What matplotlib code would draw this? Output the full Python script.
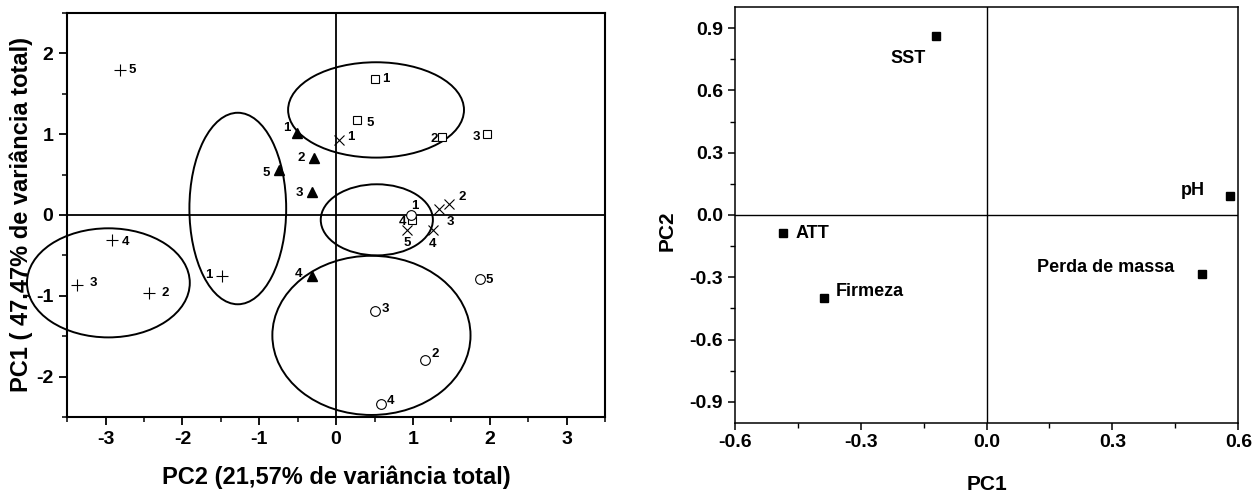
import matplotlib
matplotlib.use("Agg")
from matplotlib import pyplot as plt
from matplotlib.patches import Ellipse
from matplotlib.ticker import MultipleLocator
import numpy as np

plt.rcParams['font.family'] = ['Liberation Sans', 'DejaVu Sans']
plt.rcParams['font.weight'] = 'bold'
plt.rcParams['axes.unicode_minus'] = False

# --- score plot (left), five groups, samples 1-5 ---
plus_lbl = ["5", "4", "3", "2", "1"]
plus_x = [-2.82, -2.92, -3.38, -2.44, -1.49]
plus_y = [1.79, -0.31, -0.87, -0.96, -0.75]

tri_lbl = ["1", "2", "5", "3", "4"]
tri_x = [-0.51, -0.29, -0.75, -0.31, -0.32]
tri_y = [1.01, 0.71, 0.56, 0.28, -0.75]

sq_lbl = ["1", "5", "2", "3", "4"]
sq_x = [0.51, 0.27, 1.38, 1.96, 0.99]
sq_y = [1.68, 1.18, 0.97, 1.00, -0.06]

cross_lbl = ["1", "2", "3", "5", "4"]
cross_x = [0.04, 1.47, 1.34, 0.92, 1.26]
cross_y = [0.93, 0.14, 0.07, -0.19, -0.19]

circ_lbl = ["1", "5", "3", "2", "4"]
circ_x = [0.98, 1.87, 0.51, 1.16, 0.58]
circ_y = [0.00, -0.79, -1.19, -1.79, -2.34]

# group ellipses
ell_cx = [0.52, 0.53, 0.46, -1.28, -2.965]
ell_cy = [1.30, -0.06, -1.49, 0.08, -0.84]
ell_w = [2.29, 1.46, 2.58, 1.26, 2.12]
ell_h = [1.18, 0.88, 1.97, 2.37, 1.35]

# --- loadings plot (right) ---
variables = ["SST", "ATT", "Firmeza", "pH", "Perda de massa"]
load_pc1 = [-0.12, -0.484, -0.388, 0.579, 0.513]
load_pc2 = [0.864, -0.088, -0.402, 0.092, -0.286]

# label offsets (pixels)
plus_off = [(13, 0), (14, -2), (17, 2), (16, 0), (-13, 1)]
tri_off = [(-10, 5), (-13, 0), (-12, -3), (-13, -1), (-13, 2)]
sq_off = [(11, 0), (13, -3), (-8, -2), (-10, -3), (-10, -2)]
cross_off = [(12, 3), (13, 7), (11, -13), (0, -13), (0, -14)]
circ_off = [(3, 9), (10, -1), (10, 2), (10, 6), (10, 3)]
var_off = [(-28, -23, 'center'), (12, 0, 'left'), (12, 7, 'left'),
           (-25, 5, 'right'), (-28, 7, 'right')]

fig = plt.figure(figsize=(12.6, 4.95), dpi=100)
ax1 = fig.add_axes([0.0534, 0.1576, 0.4267, 0.8162])
ax2 = fig.add_axes([0.5831, 0.1461, 0.3997, 0.8392])

# ---------- left ----------
ax1.axhline(0, color='k', lw=1.3, zorder=1)
ax1.axvline(0, color='k', lw=1.3, zorder=1)

for cx, cy, w, h in zip(ell_cx, ell_cy, ell_w, ell_h):
    ax1.add_patch(Ellipse((cx, cy), w, h, fill=False, ec='k', lw=1.4,
                          clip_on=False, zorder=2))

ax1.plot(plus_x, plus_y, ls='none', marker='+', ms=9, mew=0.8, color='k', zorder=3)
ax1.plot(tri_x, tri_y, ls='none', marker='^', ms=7.5, color='k', zorder=3)
ax1.plot(sq_x, sq_y, ls='none', marker='s', ms=6, mew=0.8, mfc='white', mec='k', zorder=3)
ax1.plot(cross_x, cross_y, ls='none', marker='x', ms=7, mew=0.8, color='k', zorder=3)
ax1.plot(circ_x, circ_y, ls='none', marker='o', ms=7, mew=0.8, mfc='white', mec='k', zorder=4)

for lbls, xs, ys, offs in [(plus_lbl, plus_x, plus_y, plus_off),
                           (tri_lbl, tri_x, tri_y, tri_off),
                           (sq_lbl, sq_x, sq_y, sq_off),
                           (cross_lbl, cross_x, cross_y, cross_off),
                           (circ_lbl, circ_x, circ_y, circ_off)]:
    for t, x, y, (dx, dy) in zip(lbls, xs, ys, offs):
        ax1.annotate(t, (x, y), xytext=(dx, dy), textcoords='offset pixels',
                     ha='center', va='center', fontsize=9.5, fontweight='bold', zorder=5)

ax1.set_xlim(-3.5, 3.5)
ax1.set_ylim(-2.5, 2.5)
ax1.xaxis.set_major_locator(MultipleLocator(1))
ax1.xaxis.set_minor_locator(MultipleLocator(0.5))
ax1.yaxis.set_major_locator(MultipleLocator(1))
ax1.yaxis.set_minor_locator(MultipleLocator(0.5))
ax1.tick_params(which='major', direction='out', length=5.5, width=1.3, labelsize=14, pad=4.5)
ax1.tick_params(which='minor', direction='out', length=3.5, width=1.1)
for s in ax1.spines.values():
    s.set_linewidth(1.5)
ax1.set_xlabel('PC2 (21,57% de variância total)', fontsize=17, fontweight='bold')
ax1.set_ylabel('PC1 ( 47,47% de variância total)', fontsize=17, fontweight='bold')
ax1.xaxis.set_label_coords(0.5, -0.119)
ax1.yaxis.set_label_coords(-0.064, 0.5)

# ---------- right ----------
ax2.axhline(0, color='k', lw=1.0, zorder=1)
ax2.axvline(0, color='k', lw=1.0, zorder=1)
ax2.plot(load_pc1, load_pc2, ls='none', marker='s', ms=5.5, color='k', zorder=3)
for v, x, y, (dx, dy, ha) in zip(variables, load_pc1, load_pc2, var_off):
    ax2.annotate(v, (x, y), xytext=(dx, dy), textcoords='offset pixels',
                 ha=ha, va='center', fontsize=13, fontweight='bold')

ax2.set_xlim(-0.6, 0.6)
ax2.set_ylim(-1.0, 1.0)
ax2.set_xticks([-0.6, -0.3, 0.0, 0.3, 0.6])
ax2.set_yticks([-0.9, -0.6, -0.3, 0.0, 0.3, 0.6, 0.9])
ax2.xaxis.set_minor_locator(MultipleLocator(0.15))
ax2.set_yticks(np.arange(-0.75, 0.8, 0.3), minor=True)
ax2.tick_params(which='major', direction='out', length=5, width=1.1, labelsize=14, pad=3.5)
ax2.tick_params(which='minor', direction='out', length=3.5, width=1.0)
for s in ax2.spines.values():
    s.set_linewidth(1.1)
ax2.set_xlabel('PC1', fontsize=15, fontweight='bold')
ax2.set_ylabel('PC2', fontsize=15, fontweight='bold')
ax2.xaxis.set_label_coords(0.5, -0.126)
ax2.yaxis.set_label_coords(-0.1146, 0.4615)

fig.savefig('out.png', dpi=100)
